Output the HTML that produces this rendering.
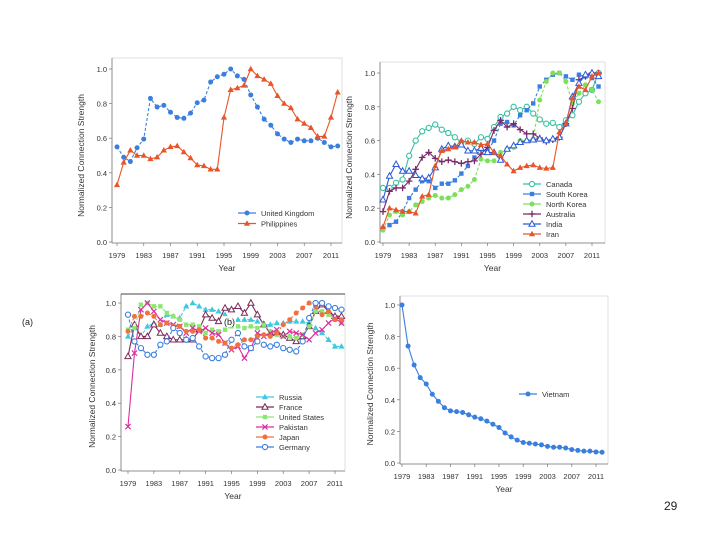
<!DOCTYPE html>
<html><head><meta charset="utf-8"><style>
html,body{margin:0;padding:0;background:#fff;}
svg{display:block;font-family:"Liberation Sans",sans-serif;}
</style></head><body>
<svg id="root" width="720" height="540" viewBox="0 0 720 540" xmlns="http://www.w3.org/2000/svg">
</svg>
<script>
const years = [];
for (let y = 1979; y <= 2012; y++) years.push(y);
const yearTicks = [1979,1983,1987,1991,1995,1999,2003,2007,2011];
const valueTicks = [0,0.2,0.4,0.6,0.8,1.0];

const ukValues = [0.55,0.49,0.465,0.545,0.595,0.83,0.78,0.79,0.75,0.72,0.715,0.745,0.805,0.82,0.925,0.955,0.97,1.0,0.96,0.94,0.85,0.78,0.71,0.675,0.625,0.595,0.575,0.595,0.585,0.585,0.6,0.575,0.55,0.555];
const philippinesValues = [0.33,0.46,0.53,0.5,0.5,0.48,0.49,0.53,0.55,0.555,0.52,0.485,0.445,0.44,0.42,0.42,0.72,0.88,0.89,0.905,1.0,0.96,0.94,0.915,0.845,0.8,0.775,0.71,0.685,0.66,0.61,0.61,0.72,0.865];

const canadaValues = [0.32,0.32,0.35,0.37,0.51,0.6,0.655,0.675,0.695,0.665,0.645,0.62,0.59,0.6,0.58,0.62,0.61,0.68,0.74,0.76,0.8,0.78,0.8,0.76,0.725,0.7,0.705,0.68,0.72,0.75,0.83,0.88,0.9,1.0];
const southKoreaValues = [0.08,0.1,0.12,0.18,0.26,0.31,0.36,0.36,0.32,0.345,0.345,0.365,0.405,0.45,0.5,0.55,0.54,0.6,0.7,0.71,0.69,0.75,0.78,0.82,0.92,0.96,0.99,1.0,0.98,0.96,0.99,0.98,0.97,0.92];
const northKoreaValues = [0.07,0.16,0.18,0.16,0.18,0.22,0.24,0.26,0.275,0.26,0.26,0.28,0.31,0.33,0.37,0.49,0.48,0.48,0.53,0.55,0.56,0.6,0.6,0.61,0.84,0.95,1.0,1.0,0.95,0.82,0.88,0.93,0.9,0.83];
const australiaValues = [0.18,0.3,0.32,0.32,0.36,0.43,0.5,0.53,0.495,0.475,0.485,0.475,0.465,0.475,0.48,0.52,0.56,0.66,0.72,0.68,0.7,0.665,0.64,0.64,0.615,0.595,0.605,0.62,0.7,0.79,0.96,0.98,1.0,1.0];
const indiaValues = [0.25,0.39,0.46,0.42,0.42,0.395,0.375,0.38,0.44,0.55,0.57,0.565,0.575,0.54,0.54,0.555,0.53,0.53,0.485,0.55,0.57,0.59,0.6,0.605,0.61,0.6,0.61,0.62,0.7,0.86,0.94,0.99,1.0,0.98];
const iranValues = [0.09,0.2,0.19,0.18,0.18,0.17,0.27,0.28,0.45,0.54,0.55,0.56,0.6,0.59,0.59,0.575,0.58,0.53,0.51,0.46,0.42,0.44,0.45,0.455,0.44,0.435,0.44,0.65,0.7,0.85,0.92,0.9,0.98,1.0];

const russiaValues = [0.8,0.85,0.8,0.86,0.88,0.87,0.93,0.92,0.91,0.98,1.0,0.98,0.96,0.96,0.95,0.93,0.88,0.9,0.9,0.9,0.89,0.87,0.87,0.88,0.88,0.89,0.89,0.89,0.88,0.85,0.82,0.78,0.74,0.74];
const franceValues = [0.68,0.87,0.8,0.8,0.87,0.82,0.8,0.78,0.78,0.78,0.78,0.84,0.93,0.91,0.89,0.97,0.96,0.98,0.94,1.0,0.93,0.87,0.82,0.82,0.81,0.79,0.77,0.8,0.86,0.95,0.99,0.95,0.92,0.92];
const usValues = [0.84,0.85,0.99,1.0,0.98,0.98,0.94,0.92,0.9,0.87,0.87,0.86,0.82,0.84,0.83,0.84,0.86,0.86,0.85,0.86,0.85,0.87,0.83,0.81,0.8,0.8,0.79,0.81,0.86,0.95,0.95,0.93,0.9,0.88];
const pakistanValues = [0.26,0.7,0.96,1.0,0.95,0.9,0.88,0.87,0.86,0.82,0.85,0.83,0.85,0.82,0.81,0.76,0.72,0.74,0.67,0.73,0.82,0.8,0.82,0.84,0.8,0.83,0.82,0.81,0.78,0.82,0.84,0.88,0.91,0.88];
const japanValues = [0.83,0.92,0.92,0.94,0.92,0.87,0.88,0.86,0.86,0.83,0.83,0.84,0.79,0.79,0.77,0.76,0.73,0.75,0.78,0.78,0.8,0.81,0.8,0.82,0.87,0.9,0.94,0.97,1.0,0.98,0.93,0.95,0.9,0.9];
const germanyValues = [0.93,0.77,0.73,0.69,0.69,0.75,0.77,0.85,0.82,0.78,0.79,0.74,0.68,0.67,0.67,0.69,0.78,0.82,0.74,0.73,0.77,0.75,0.74,0.75,0.73,0.72,0.71,0.77,0.91,1.0,1.0,0.98,0.97,0.96];

const vietnamValues = [1.0,0.74,0.62,0.54,0.5,0.435,0.39,0.35,0.33,0.325,0.32,0.305,0.29,0.28,0.265,0.245,0.225,0.19,0.165,0.145,0.13,0.125,0.12,0.115,0.105,0.1,0.1,0.095,0.085,0.08,0.075,0.075,0.07,0.068];

const NS = "http://www.w3.org/2000/svg";
const root = document.getElementById("root");
function mk(tag, attrs, parent) {
  const e = document.createElementNS(NS, tag);
  for (const k in attrs) e.setAttribute(k, attrs[k]);
  (parent || root).appendChild(e);
  return e;
}
function marker(g, shape, x, y, color) {
  let m;
  if (shape === "circle") m = mk("circle", {cx:x, cy:y, r:2.5, fill:color}, g);
  else if (shape === "ocircle") m = mk("circle", {cx:x, cy:y, r:2.6, fill:"#fff", stroke:color, "stroke-width":1.1}, g);
  else if (shape === "square") m = mk("rect", {x:x-2.2, y:y-2.2, width:4.4, height:4.4, fill:color}, g);
  else if (shape === "tri") m = mk("path", {d:`M${x},${y-3.3}L${x+3.1},${y+2.2}L${x-3.1},${y+2.2}Z`, fill:color}, g);
  else if (shape === "otri") m = mk("path", {d:`M${x},${y-3.3}L${x+3.1},${y+2.2}L${x-3.1},${y+2.2}Z`, fill:"#fff", stroke:color, "stroke-width":1}, g);
  else if (shape === "plus") m = mk("path", {d:`M${x-3.3},${y}H${x+3.3}M${x},${y-3.3}V${y+3.3}`, stroke:color, "stroke-width":1.3}, g);
  else if (shape === "x") m = mk("path", {d:`M${x-2.6},${y-2.6}L${x+2.6},${y+2.6}M${x-2.6},${y+2.6}L${x+2.6},${y-2.6}`, stroke:color, "stroke-width":1.2}, g);
  
  
}
function chart(cfg) {
  const g = mk("g", {});
  
  
  const xs = v => cfg.x0 + (v - 1979) * (cfg.x1 - cfg.x0) / 32;
  const ys = v => cfg.y0 - v * (cfg.y0 - cfg.y1);
  const fr = mk("rect", {x:cfg.ax, y:cfg.top, width:cfg.right-cfg.ax, height:cfg.y0+1-cfg.top, fill:"none", stroke:"#d8d8d8", "stroke-width":0.8}, g);
  
  
  const xa = mk("line", {x1:cfg.ax, x2:cfg.right, y1:cfg.y0+1, y2:cfg.y0+1, stroke:"#777", "stroke-width":0.8}, g);
  
  
  const ya = mk("line", {x1:cfg.ax, x2:cfg.ax, y1:cfg.top, y2:cfg.y0+1, stroke:"#777", "stroke-width":0.8}, g);
  
  
  if (cfg.topLine) {
    const tl = mk("line", {x1:cfg.ax, x2:cfg.right, y1:cfg.top, y2:cfg.top, stroke:"#444", "stroke-width":1}, g);
    
    
  }
  valueTicks.forEach(v => {
    const t = mk("text", {x:cfg.ax-5, y:ys(v)+3, "font-size":7.5, "text-anchor":"end", fill:"#333"}, g);
    t.textContent = v.toFixed(1);
    
    
    mk("line", {x1:cfg.ax-3, x2:cfg.ax, y1:ys(v), y2:ys(v), stroke:"#777", "stroke-width":0.7}, g);
  });
  yearTicks.forEach(v => {
    const t = mk("text", {x:xs(v), y:cfg.y0+16, "font-size":7.5, "text-anchor":"middle", fill:"#333"}, g);
    t.textContent = v;
    
    
    mk("line", {x1:xs(v), x2:xs(v), y1:cfg.y0+1, y2:cfg.y0+4, stroke:"#777", "stroke-width":0.7}, g);
  });
  const xt = mk("text", {x:(cfg.ax+cfg.right)/2, y:cfg.y0+29, "font-size":8.5, "text-anchor":"middle", fill:"#333"}, g);
  xt.textContent = "Year";
  
  
  const yt = mk("text", {x:0, y:0, "font-size":8.5, "text-anchor":"middle", fill:"#333", transform:`translate(${cfg.ylx},${(cfg.y0+cfg.y1)/2}) rotate(-90)`}, g);
  yt.textContent = "Normalized Connection Strength";
  
  
  cfg.series.forEach((s, si) => {
    const sg = mk("g", {}, g);
    
    
    const d = s.values.map((v, i) => (i ? "L" : "M") + xs(years[i]) + "," + ys(v)).join("");
    mk("path", {d:d, fill:"none", stroke:s.color, "stroke-width":1.1, "stroke-dasharray":s.dash || "none"}, sg);
    s.values.forEach((v, i) => marker(sg, s.shape, xs(years[i]), ys(v), s.color));
    const ly = cfg.legY + si * cfg.legDy;
    const lg = mk("g", {}, g);
    
    
    mk("line", {x1:cfg.legX-9, x2:cfg.legX+9, y1:ly, y2:ly, stroke:s.color, "stroke-width":1.3}, lg);
    marker(lg, s.shape, cfg.legX, ly, s.color);
    const lt = mk("text", {x:cfg.legX+14, y:ly+3, "font-size":7.5, fill:"#333"}, lg);
    lt.textContent = s.label;
  });
}

chart({name:"chart-uk-philippines", x0:117, x1:331, y0:242, y1:69, ax:112, right:342, top:58, ylx:84,
  legX:247, legY:213, legDy:10.5,
  series:[
    {label:"United Kingdom", values:ukValues, color:"#3a7fe0", shape:"circle", dash:"3,2"},
    {label:"Philippines", values:philippinesValues, color:"#e8552a", shape:"tri"}
  ]});
chart({name:"chart-asia-pacific", x0:383, x1:592, y0:242, y1:73, ax:380, right:605, top:62, ylx:352,
  legX:532, legY:184, legDy:10,
  series:[
    {label:"Canada", values:canadaValues, color:"#35c0a0", shape:"ocircle"},
    {label:"South Korea", values:southKoreaValues, color:"#3a7fe0", shape:"square", dash:"3,2"},
    {label:"North Korea", values:northKoreaValues, color:"#7ee05a", shape:"circle", dash:"3,2"},
    {label:"Australia", values:australiaValues, color:"#7a2a6a", shape:"plus"},
    {label:"India", values:indiaValues, color:"#2a5ad8", shape:"otri"},
    {label:"Iran", values:iranValues, color:"#e8552a", shape:"tri"}
  ]});
chart({name:"chart-major-powers", x0:128, x1:335, y0:470, y1:303, ax:121, right:345, top:294, ylx:95, topLine:true,
  legX:265, legY:397, legDy:10,
  series:[
    {label:"Russia", values:russiaValues, color:"#40c8e0", shape:"tri", dash:"3,2"},
    {label:"France", values:franceValues, color:"#7a2a5a", shape:"otri"},
    {label:"United States", values:usValues, color:"#8ae870", shape:"square", dash:"3,2"},
    {label:"Pakistan", values:pakistanValues, color:"#d830a0", shape:"x"},
    {label:"Japan", values:japanValues, color:"#f07040", shape:"circle", dash:"2,2"},
    {label:"Germany", values:germanyValues, color:"#3a7fe0", shape:"ocircle", dash:"3,2"}
  ]});
chart({name:"chart-vietnam", x0:402, x1:596, y0:463, y1:305, ax:400, right:608, top:296, ylx:373,
  legX:528, legY:394, legDy:10,
  series:[
    {label:"Vietnam", values:vietnamValues, color:"#3a7fe0", shape:"circle"}
  ]});

const la = mk("text", {x:22, y:325, "font-size":9, fill:"#222"});
la.textContent = "(a)";


const lbBg = mk("rect", {x:222, y:316, width:14, height:11, fill:"#fff", opacity:0.85});


const lb = mk("text", {x:224, y:325, "font-size":9, fill:"#222"});
lb.textContent = "(b)";


const pn = mk("text", {x:664, y:510, "font-size":12, fill:"#222"});
pn.textContent = "29";


</script>
</body></html>
